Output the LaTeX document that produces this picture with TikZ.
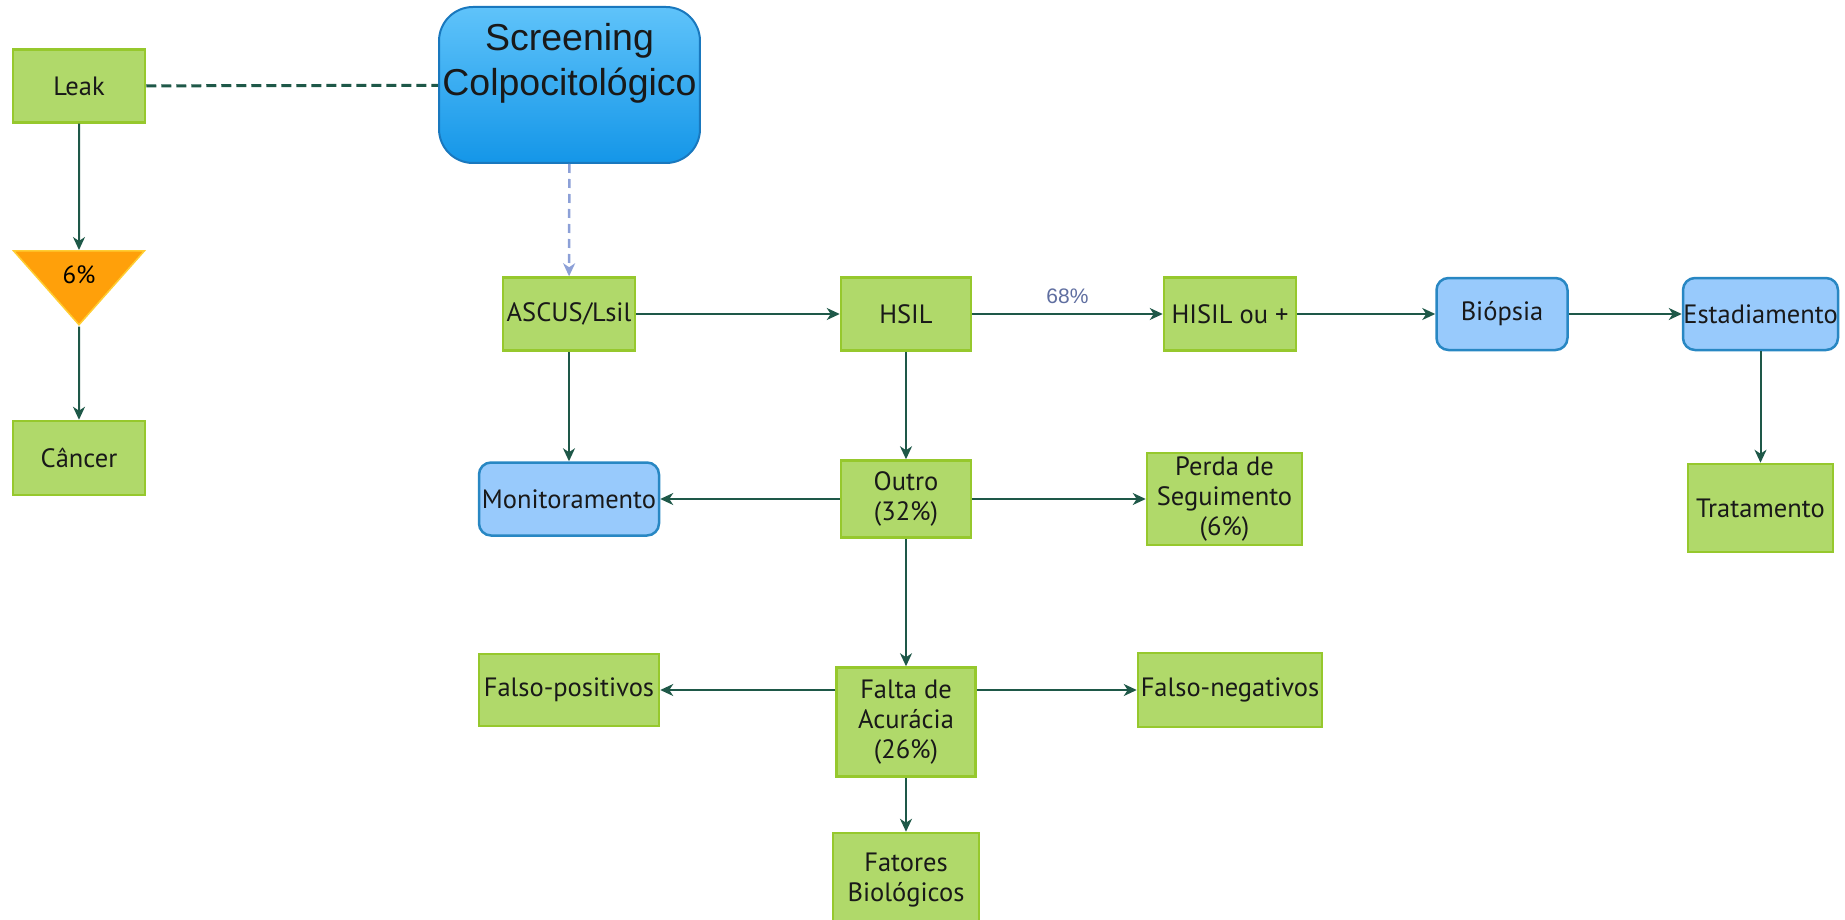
\documentclass[tikz,border=0pt]{standalone}
\usepackage{fontspec}
\setmainfont{PT Sans}
\newfontfamily\arialfont{Liberation Sans}
\usepackage{tikz}
\usetikzlibrary{positioning, shapes.geometric}
\usetikzlibrary{arrows.meta}

\definecolor{boxgreen}{RGB}{176,217,106}
\definecolor{boxgreenline}{RGB}{150,200,45}
\definecolor{boxblue}{RGB}{152,202,252}
\definecolor{boxblueline}{RGB}{40,135,195}
\definecolor{linkgreen}{RGB}{30,88,72}
\definecolor{dashblue}{RGB}{140,160,215}
\definecolor{pctorange}{RGB}{255,160,10}
\definecolor{pctline}{RGB}{255,205,50}
\definecolor{screentop}{RGB}{95,195,250}
\definecolor{screenbot}{RGB}{20,150,232}
\definecolor{screenline}{RGB}{25,120,190}
\definecolor{labelblue}{RGB}{95,110,160}

\begin{document}
\begin{tikzpicture}[
    x=1pt, y=-1pt,
    box/.style={rectangle, draw=boxgreenline, fill=boxgreen, line width=2.5pt, inner sep=2pt, align=center, text=black!90, font=\fontsize{26.5}{30}\selectfont},
    bluebox/.style={box, draw=boxblueline, fill=boxblue, rounded corners=12pt},
    screenbox/.style={rectangle, rounded corners=34pt, draw=screenline, line width=2pt, top color=screentop, bottom color=screenbot, align=center, text=black!90, font=\arialfont\fontsize{37.5}{45}\selectfont},
    pctbox/.style={isosceles triangle, shape border rotate=-90, isosceles triangle stretches, draw=pctline, fill=pctorange, line width=1.5pt, inner sep=0pt, font=\fontsize{25}{28}\selectfont},
    edge/.style={line width=2pt, linkgreen, -{Stealth[length=13pt, width=12pt, inset=4pt]}},
    leakline/.style={line width=3pt, linkgreen, dash pattern=on 10pt off 5pt},
    dashedge/.style={line width=2.5pt, dashblue, dash pattern=on 9pt off 6pt, -{Stealth[length=13pt, width=12pt, inset=4pt]}},
]
    \useasboundingbox (0,0) rectangle (1845,920);

    % --- Left column: Leak
    \node[box, minimum width=132pt, minimum height=73pt] (leak) at (79, 86) {Leak};
    \node[pctbox, minimum width=131pt, minimum height=74pt, anchor=north] (pct) at (79, 250) {6\%};
    \node[box, minimum width=132pt, minimum height=74pt] (cancer) at (79, 458) {Câncer};

    % --- Screening (top)
    \node[screenbox, minimum width=257pt, minimum height=156pt, text depth=52pt] (screen) at (569.5, 85) {Screening\\Colpocitológico};

    % --- Row 1
    \node[box, minimum width=132pt, minimum height=73pt, inner sep=0pt] (ascus) at (569, 314) {ASCUS/Lsil};
    \node[box, minimum width=130pt, minimum height=73pt] (hsil) at (906, 314) {HSIL};
    \node[box, minimum width=132pt, minimum height=73pt] (hisil) at (1230, 314) {HISIL ou +};
    \node[bluebox, minimum width=131pt, minimum height=72pt] (biopsia) at (1502, 314) {Biópsia};
    \node[bluebox, minimum width=155pt, minimum height=72pt, inner sep=0pt] (estad) at (1760.5, 314) {Estadiamento};
    \node[box, minimum width=145pt, minimum height=88pt] (trat) at (1760.5, 508) {Tratamento};

    % --- Row 2
    \node[bluebox, minimum width=180pt, minimum height=73pt, inner sep=0pt] (monit) at (569, 499) {Monitoramento};
    \node[box, minimum width=130pt, minimum height=77pt] (outro) at (906, 499) {Outro\\(32\%)};
    \node[box, minimum width=155pt, minimum height=92pt, inner sep=0pt] (perda) at (1224.5, 499) {Perda de\\Seguimento\\(6\%)};

    % --- Row 3
    \node[box, minimum width=180pt, minimum height=72pt, inner sep=0pt] (fpos) at (569, 690) {Falso-positivos};
    \node[box, minimum width=139pt, minimum height=109pt] (falta) at (906, 722) {Falta de\\Acurácia\\(26\%)};
    \node[box, minimum width=184pt, minimum height=74pt, inner sep=0pt] (fneg) at (1230, 690) {Falso-negativos};
    \node[box, minimum width=146pt, minimum height=94pt] (fator) at (906, 880) {Fatores\\Biológicos};

    \draw[leakline] (leak) -- (screen);
    \draw[edge] (leak) -- (pct);
    \draw[edge] (pct) -- (cancer);

    \draw[dashedge] (screen) -- (ascus);
    \draw[edge] (ascus) -- (hsil);
    \draw[edge] (hsil) -- node[above, yshift=6pt, text=labelblue, font=\arialfont\fontsize{21}{24}\selectfont] {68\%} (hisil);
    \draw[edge] (hisil) -- (biopsia);
    \draw[edge] (biopsia) -- (estad);
    \draw[edge] (estad) -- (trat);

    \draw[edge] (ascus) -- (monit);
    \draw[edge] (hsil) -- (outro);
    \draw[edge] (outro) -- (monit);
    \draw[edge] (outro) -- (perda);

    \draw[edge] (outro) -- (falta);
    \draw[edge] (falta.west |- fpos) -- (fpos);
    \draw[edge] (falta.east |- fneg) -- (fneg);
    \draw[edge] (falta) -- (fator);

\end{tikzpicture}
\end{document}
